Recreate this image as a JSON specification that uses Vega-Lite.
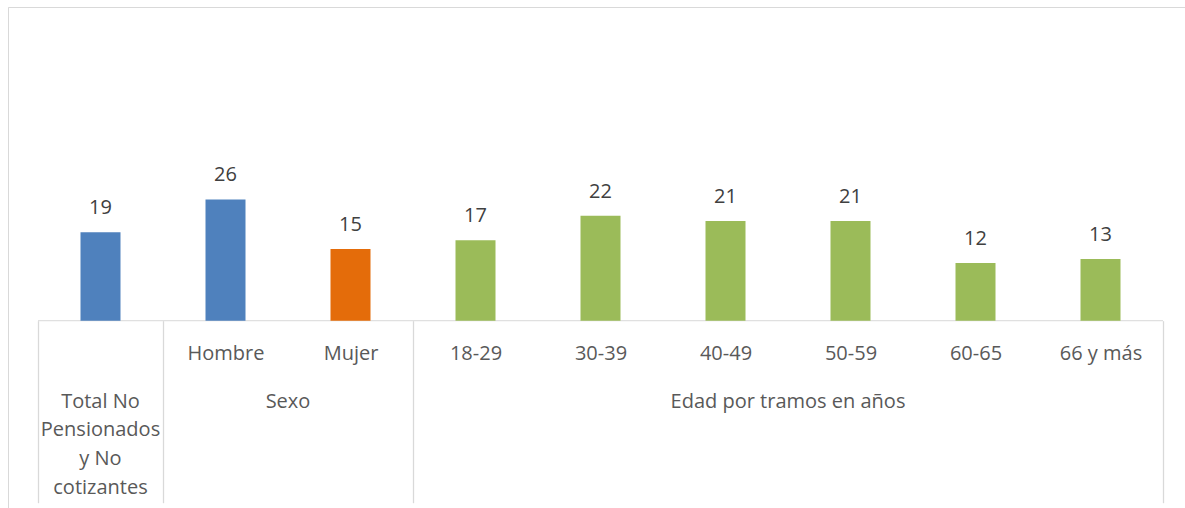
{
  "$schema": "https://vega.github.io/schema/vega-lite/v6.json",
  "width": 1177,
  "height": 501,
  "autosize": {"type": "none"},
  "padding": {"left": 8, "top": 7, "right": 0, "bottom": 0},
  "background": "white",
  "config": {
    "view": {"stroke": "#D9D9D9", "strokeWidth": 1, "strokeDash": [1177, 1678, 501]}
  },
  "data": {
    "values": [
      {"cat": "Total No Pensionados y No cotizantes", "group": "Total No Pensionados y No cotizantes", "value": 18.9},
      {"cat": "Hombre", "group": "Sexo", "value": 25.9},
      {"cat": "Mujer", "group": "Sexo", "value": 15.3},
      {"cat": "18-29", "group": "Edad por tramos en años", "value": 17.2},
      {"cat": "30-39", "group": "Edad por tramos en años", "value": 22.4},
      {"cat": "40-49", "group": "Edad por tramos en años", "value": 21.3},
      {"cat": "50-59", "group": "Edad por tramos en años", "value": 21.3},
      {"cat": "60-65", "group": "Edad por tramos en años", "value": 12.3},
      {"cat": "66 y más", "group": "Edad por tramos en años", "value": 13.2}
    ]
  },
  "resolve": {"axis": {"x": "independent"}},
  "layer": [
    {
      "mark": {"type": "rule", "color": "#D9D9D9", "strokeWidth": 1},
      "encoding": {
        "x": {"field": "cat", "type": "nominal", "sort": null, "bandPosition": 0, "axis": null,
              "scale": {"paddingInner": 0, "paddingOuter": 0.208, "align": 0.576923}},
        "x2": {"field": "cat", "bandPosition": 1},
        "y": {"datum": 0, "type": "quantitative", "scale": {"domain": [-40, 67], "zero": false, "nice": false}, "axis": null}
      }
    },
    {
      "mark": {"type": "bar", "width": {"band": 0.32}},
      "encoding": {
        "x": {"field": "cat", "type": "nominal", "sort": null,
          "axis": {
            "orient": "bottom", "offset": -187.3, "title": null, "domain": false,
            "tickBand": "extent", "tickSize": 182, "tickColor": "#D9D9D9", "tickWidth": 1.3,
            "tickOpacity": {"condition": {"test": "datum.extra || datum.value === 'Total No Pensionados y No cotizantes' || datum.value === 'Mujer' || datum.value === '66 y más'", "value": 1}, "value": 0},
            "labelExpr": "datum.value === 'Total No Pensionados y No cotizantes' ? '' : datum.label",
            "labelPadding": -159.7, "labelFont": "Open Sans", "labelFontSize": 20, "labelColor": "#595959",
            "labelAngle": 0, "labelLimit": 0, "labelOverlap": false
          }
        },
        "y": {"field": "value", "type": "quantitative", "axis": null},
        "color": {"field": "cat", "type": "nominal", "legend": null,
          "scale": {
            "domain": ["Total No Pensionados y No cotizantes", "Hombre", "Mujer", "18-29", "30-39", "40-49", "50-59", "60-65", "66 y más"],
            "range": ["#4F81BD", "#4F81BD", "#E46C0A", "#9BBB59", "#9BBB59", "#9BBB59", "#9BBB59", "#9BBB59", "#9BBB59"]
          }
        }
      }
    },
    {
      "mark": {"type": "text", "font": "Open Sans", "fontSize": 20, "color": "#404040", "baseline": "alphabetic", "dy": -18},
      "encoding": {
        "x": {"field": "cat", "type": "nominal", "sort": null,
          "axis": {
            "orient": "bottom", "offset": -187.3, "title": null, "domain": false, "ticks": false,
            "labelExpr": "datum.value === 'Total No Pensionados y No cotizantes' ? ['Total No', 'Pensionados', 'y No', 'cotizantes'] : datum.value === 'Hombre' ? 'Sexo' : datum.value === '40-49' ? 'Edad por tramos en años' : ''",
            "labelPadding": 70.3, "labelLineHeight": 28.7, "labelFont": "Open Sans", "labelFontSize": 20, "labelColor": "#595959",
            "labelAngle": 0, "labelLimit": 0, "labelOverlap": false,
            "labelOffset": {"condition": {"test": "datum.value === 'Hombre' || datum.value === '40-49'", "value": 62.5}, "value": 0}
          }
        },
        "y": {"field": "value", "type": "quantitative", "axis": null},
        "text": {"field": "value", "type": "quantitative", "format": ".0f"}
      }
    }
  ]
}
